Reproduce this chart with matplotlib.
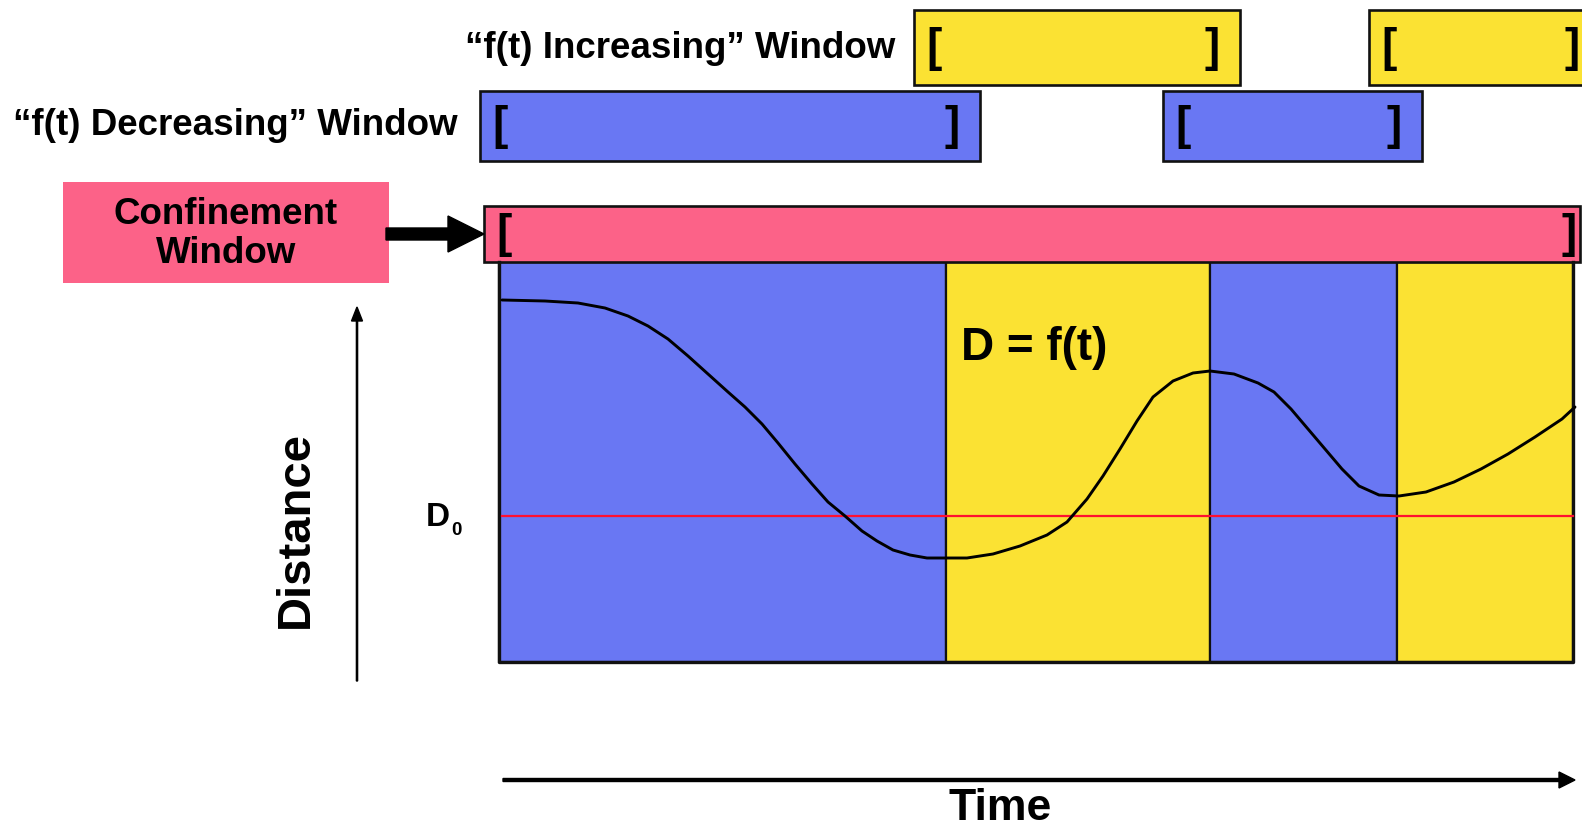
import matplotlib.pyplot as plt
from matplotlib.patches import Rectangle

# everything is laid out in pixel units of the 1582x829 picture
W, H = 1582, 829

BLUE = '#6977F3'
YELLOW = '#FBE233'
PINK = '#FC6288'
EDGE = '#111111'

# window spans along x (pixels)
incr_windows = [(914, 1240), (1369, 1600)]
decr_windows = [(480, 980), (1163, 1422)]
conf_window = (484, 1580)

# bands behind the curve: boundaries and which kind of window they are
band_edges = [499, 946, 1210, 1397, 1573]
band_kind = ['dec', 'inc', 'dec', 'inc']

# D = f(t)
curve_x = [502, 545, 578, 605, 628, 648, 668, 688, 708, 728, 745, 762, 778, 795,
           812, 828, 845, 862, 877, 893, 910, 927, 947, 967, 993, 1020, 1047,
           1067, 1087, 1103, 1120, 1137, 1153, 1173, 1193, 1210, 1234, 1258, 1274,
           1291, 1308, 1325, 1342, 1359, 1379, 1399, 1426, 1454, 1481, 1508, 1535,
           1562, 1575]
curve_y = [301, 302, 304, 309, 317, 327, 340, 357, 375, 393, 408, 425, 444, 465,
           485, 503, 517, 532, 542, 551, 556, 559, 559, 559, 555, 547, 536,
           523, 500, 477, 450, 422, 398, 382, 374, 372, 375, 384, 393,
           410, 430, 450, 470, 487, 496, 497, 493, 483, 470, 455, 438,
           420, 408]
d0_y = 517

FONT = 'Liberation Sans'

fig = plt.figure(figsize=(W / 100, H / 100), dpi=100)
ax = fig.add_axes([0, 0, 1, 1])
ax.set_xlim(0, W)
ax.set_ylim(H, 0)
ax.axis('off')


def window_box(x0, x1, y0, y1, color, left_off=20, right_off=28):
    ax.add_patch(Rectangle((x0, y0), x1 - x0, y1 - y0, facecolor=color,
                           edgecolor=EDGE, linewidth=1.9, zorder=2))
    yc = (y0 + y1) / 2
    ax.text(x0 + left_off, yc, '[', fontsize=33, fontweight='bold', family=FONT,
            ha='center', va='center', zorder=3)
    ax.text(x1 - right_off, yc, ']', fontsize=33, fontweight='bold', family=FONT,
            ha='center', va='center', zorder=3)


# top window rows
for x0, x1 in incr_windows:
    window_box(x0, x1, 11, 86, YELLOW)
for x0, x1 in decr_windows:
    window_box(x0, x1, 92, 162, BLUE)
window_box(conf_window[0], conf_window[1], 207, 263, PINK, left_off=20, right_off=11)

ax.text(895, 48, '\u201cf(t) Increasing\u201d Window', fontsize=26.5, fontweight='bold',
        family=FONT, ha='right', va='center')
ax.text(13, 125, '\u201cf(t) Decreasing\u201d Window', fontsize=26.5, fontweight='bold',
        family=FONT, ha='left', va='center')

# confinement label + arrow
ax.add_patch(Rectangle((63, 183), 326, 101, facecolor=PINK, edgecolor='none', zorder=2))
ax.text(226, 234, 'Confinement\nWindow', fontsize=26.5, fontweight='bold', family=FONT,
        ha='center', va='center', linespacing=1.12, zorder=3)
ax.arrow(386, 235, 98, 0, width=12, head_width=36, head_length=36,
         length_includes_head=True, color='black', zorder=3)

# coloured bands
for i, kind in enumerate(band_kind):
    x0, x1 = band_edges[i], band_edges[i + 1]
    ax.add_patch(Rectangle((x0, 263), x1 - x0, 663 - 263,
                           facecolor=BLUE if kind == 'dec' else YELLOW,
                           edgecolor=EDGE, linewidth=1.6, zorder=1))
ax.plot([band_edges[0], band_edges[0], band_edges[-1], band_edges[-1]],
        [263, 663, 663, 263], color=EDGE, linewidth=2.4, zorder=2)

ax.plot([502, band_edges[-1]], [d0_y, d0_y], color='#FF1030', linewidth=1.6, zorder=3)
ax.plot(curve_x, curve_y, color='black', linewidth=2.1, zorder=4,
        solid_joinstyle='round', solid_capstyle='round')

ax.text(961, 348, 'D = f(t)', fontsize=33, fontweight='bold', family=FONT,
        ha='left', va='center', zorder=5)
ax.text(426, 526, 'D', fontsize=24, fontweight='bold', family=FONT,
        ha='left', va='baseline')
ax.text(451, 535, '0', fontsize=13.5, fontweight='bold', family=FONT,
        ha='left', va='baseline')

# axes arrows
ax.arrow(357, 682, 0, -374, width=1.2, head_width=11, head_length=14,
         length_includes_head=True, color='black')
ax.text(296, 530, 'Distance', fontsize=34, fontweight='bold', family=FONT,
        rotation=90, ha='center', va='center')
ax.arrow(503, 781, 1072, 0, width=3, head_width=16, head_length=16,
         length_includes_head=True, color='black')
ax.text(1000, 829, 'Time', fontsize=32, fontweight='bold', family=FONT,
        ha='center', va='bottom')

fig.savefig('out.png', dpi=100)
